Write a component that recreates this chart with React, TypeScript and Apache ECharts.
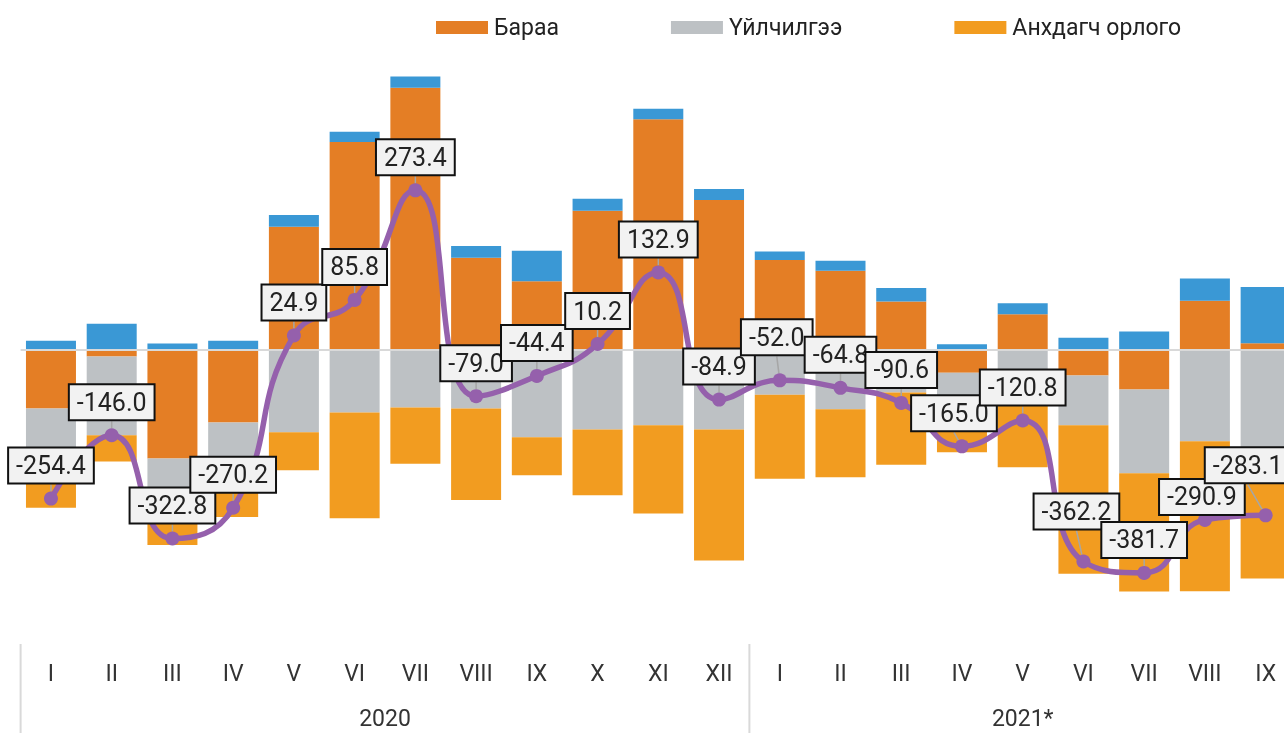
import React, { useEffect, useRef } from 'react';
import * as echarts from 'echarts';

const months = ['I', 'II', 'III', 'IV', 'V', 'VI', 'VII', 'VIII', 'IX', 'X', 'XI', 'XII', 'I', 'II', 'III', 'IV', 'V', 'VI', 'VII', 'VIII', 'IX'];
const years = ['2020', '2021*'];
const yearSpans = [12, 9];

const goods = [-100, -11, -186, -124, 211, 356, 448.9, 158, 117.9, 238.3, 395.1, 256.7, 154.3, 135.9, 83.2, -39, 61.3, -43.7, -67.6, 84.2, 11.6];
const services = [-79, -135, -79, -72, -141, -107, -98.5, -100.2, -149.3, -136.1, -128.8, -136.1, -76.7, -101.4, -72.8, -40, -67.6, -85.1, -143.3, -156.2, -179];
const primaryIncome = [-91.2, -45, -68.8, -90, -65.1, -181, -96.4, -156.8, -65, -112.5, -151.2, -224.3, -143.8, -116.4, -123.8, -96, -133.3, -254.3, -202.5, -257.1, -212.1];
const secondaryIncome = [15.8, 45, 11, 15.8, 20, 17.8, 19.4, 20, 52, 20.5, 17.8, 18.8, 14.2, 17.1, 22.8, 10, 18.8, 20.9, 31.7, 38.2, 96.4];
const currentAccount = [-254.4, -146.0, -322.8, -270.2, 24.9, 85.8, 273.4, -79.0, -44.4, 10.2, 132.9, -84.9, -52.0, -64.8, -90.6, -165.0, -120.8, -362.2, -381.7, -290.9, -283.1];

const names = ['Бараа', 'Үйлчилгээ', 'Анхдагч орлого', 'Хоёрдогч орлого', 'Урсгал тэнцэл'];
const colors = ['#E47E25', '#BDC1C4', '#F29C20', '#3A98D5', '#9560AC'];

const FONT = 'Roboto, "Noto Sans", sans-serif';

export default function App() {
  const ref = useRef<HTMLDivElement>(null);
  useEffect(() => {
    document.body.style.overflow = 'hidden';
    const chart = echarts.init(ref.current!, null, { renderer: 'svg' });
    const barSeries = [goods, services, primaryIncome, secondaryIncome].map((d, i) => ({
      name: names[i],
      type: 'bar',
      stack: 'total',
      data: d,
      barWidth: 50,
      itemStyle: { color: colors[i] },
      ...(i === 0
        ? {
            markLine: {
              silent: true,
              symbol: 'none',
              label: { show: false },
              lineStyle: { color: '#D9D9D9', width: 2, type: 'solid' },
              data: [{ yAxis: 0 }],
              z: 5,
            },
          }
        : {}),
    }));
    chart.setOption({
      animation: false,
      textStyle: { fontFamily: FONT },
      legend: {
        data: names.slice(0, 3),
        left: 431,
        top: 11,
        icon: 'rect',
        itemWidth: 52,
        itemHeight: 13,
        itemGap: 112,
        textStyle: { fontSize: 23, color: '#222', fontFamily: FONT, padding: [0, 0, 0, 1] },
      },
      grid: { left: 20.6, right: 0, top: 58, height: 584 },
      xAxis: {
        type: 'category',
        data: months,
        axisLine: { show: false, onZero: false },
        axisTick: { show: false },
        axisLabel: { fontSize: 23, color: '#333', margin: 20, fontFamily: FONT },
      },
      yAxis: {
        type: 'value',
        min: -500,
        max: 500,
        show: false,
        splitLine: { show: false },
      },
      series: [
        ...barSeries,
        {
          name: names[4],
          type: 'line',
          data: currentAccount,
          smooth: true,
          z: 10,
          symbol: 'circle',
          symbolSize: 14,
          lineStyle: { color: colors[4], width: 5.5 },
          itemStyle: { color: colors[4] },
          label: {
            show: true,
            position: 'top',
            distance: 9,
            formatter: (p: any) => Number(p.value).toFixed(1),
            fontSize: 25,
            lineHeight: 28,
            color: '#222',
            fontFamily: FONT,
            backgroundColor: '#F2F2F2',
            borderColor: '#111',
            borderWidth: 2,
            padding: [3, 7, 3, 7],
          },
          labelLine: { show: true, lineStyle: { color: '#A6A6A6', width: 1.5 } },
          labelLayout: (p: any) => {
            if (p.dataIndex === 20) return { dx: -18, dy: -17 };
            if (p.dataIndex === 19) return { dx: -3, dy: 10 };
            if (p.dataIndex === 17) return { dx: -7, dy: -17 };
            if (p.dataIndex === 12) return { dx: -3, dy: -10 };
            if (p.dataIndex === 15) return { dx: -8 };
            return {};
          },
        },
      ],
    });

    const xAt = (i: number) => chart.convertToPixel({ xAxisIndex: 0 }, i) as number;
    const band = xAt(1) - xAt(0);
    const bottomY = chart.convertToPixel({ yAxisIndex: 0 }, -500) as number;
    const graphics: any[] = [];
    let start = 0;
    years.forEach((y, k) => {
      const left = xAt(start) - band / 2;
      graphics.push({
        type: 'line',
        shape: { x1: left, y1: bottomY + 2, x2: left, y2: 733 },
        style: { stroke: '#D9D9D9', lineWidth: 2 },
      });
      const center = (xAt(start) + xAt(start + yearSpans[k] - 1)) / 2;
      graphics.push({
        type: 'text',
        x: center,
        y: bottomY + 76,
        style: { text: y, fontSize: 23, fill: '#333', fontFamily: FONT, align: 'center', verticalAlign: 'middle' },
      });
      start += yearSpans[k];
    });
    chart.setOption({ graphic: graphics });

    return () => chart.dispose();
  }, []);
  return <div ref={ref} style={{ position: 'fixed', left: 0, top: 0, width: 1296, height: 733 }} />;
}
